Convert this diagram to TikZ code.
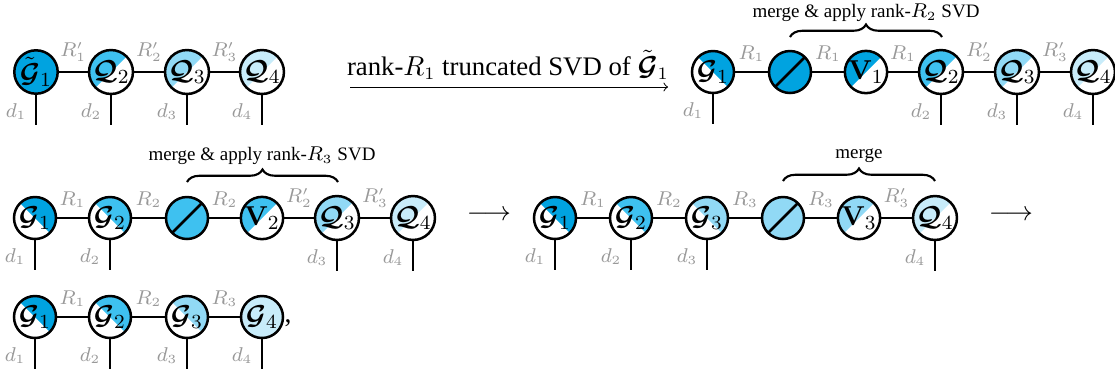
\documentclass[tikz,border=0pt]{standalone}
\usepackage{amsmath,bm}
\usepackage[no-math]{fontspec}
\setmainfont{Liberation Serif}
\usetikzlibrary{decorations.pathreplacing,calc}
\definecolor{cA}{RGB}{0,163,224}
\definecolor{cB}{RGB}{62,193,240}
\definecolor{cC}{RGB}{145,217,245}
\definecolor{cD}{RGB}{200,236,250}
\newcommand{\Gc}{\bm{\mathcal{G}}}
\newcommand{\Qc}{\bm{\mathcal{Q}}}
\tikzset{
  tn/.style={circle, draw, line width=1pt, minimum size=16.8pt, inner sep=0pt,
    font=\fontsize{11}{13}\selectfont},
  full/.style={tn, fill=#1},
  qhalf/.style={tn, path picture={\fill[#1] (path picture bounding box.south west) --
      (path picture bounding box.north west) -- (path picture bounding box.north east) -- cycle;}},
  ghalf/.style={tn, path picture={\fill[#1] (path picture bounding box.north west) --
      (path picture bounding box.north east) -- (path picture bounding box.south east) -- cycle;}},
  snode/.style={tn, fill=#1, path picture={\draw[line width=1pt] (path picture bounding box.south west) --
      (path picture bounding box.north east);}},
  bond/.style={line width=1pt},
  lbl/.style={text=black!40, inner sep=0pt, font=\fontsize{7.8}{9}\selectfont},
  rl/.style={lbl, above=3.6pt, midway},
  dl/.style={lbl, left=3.3pt, pos=0.55},
  bracestyle/.style={decorate, decoration={brace, amplitude=5pt}, line width=0.85pt},
  bracelbl/.style={font=\fontsize{7.6}{9}\selectfont, inner sep=0pt},
}
\begin{document}
\begin{tikzpicture}[x=0.4pt, y=-0.4pt]
\useasboundingbox (0,0) rectangle (1115,375);
% ---------- row 1 ----------
\node[full=cA] (a1) at (36,72) {$\tilde{\Gc}_1$};
\node[qhalf=cB] (a2) at (111,72) {$\Qc_2$};
\node[qhalf=cC] (a3) at (187,72) {$\Qc_3$};
\node[qhalf=cD] (a4) at (262,72) {$\Qc_4$};
\draw[bond] (a1) -- node[rl]{$R_1'$} (a2);
\draw[bond] (a2) -- node[rl]{$R_2'$} (a3);
\draw[bond] (a3) -- node[rl]{$R_3'$} (a4);
\draw[bond] (a1.south) -- node[dl]{$d_1$} ++(0,30);
\draw[bond] (a2.south) -- node[dl]{$d_2$} ++(0,30);
\draw[bond] (a3.south) -- node[dl]{$d_3$} ++(0,30);
\draw[bond] (a4.south) -- node[dl]{$d_4$} ++(0,30);
% arrow
\node[anchor=base, inner sep=0pt, font=\fontsize{10.7}{12}\selectfont] (t1) at (508,75)
  {rank-$R_1$ truncated SVD of $\tilde{\Gc}_1$};
\coordinate (arL) at (350,87);
\coordinate (arR) at (668,87);
\draw[line width=0.4pt, ->] (arL) -- (arR);
% ---------- row 2 ----------
\node[ghalf=cA] (b1) at (713,72) {$\Gc_1$};
\node[snode=cA] (b2) at (790,72) {};
\node[qhalf=cA] (b3) at (866,72) {$\mathbf{V}_1$};
\node[qhalf=cB] (b4) at (941,72) {$\Qc_2$};
\node[qhalf=cC] (b5) at (1017,72) {$\Qc_3$};
\node[qhalf=cD] (b6) at (1093,72) {$\Qc_4$};
\draw[bond] (b1) -- node[rl]{$R_1$} (b2);
\draw[bond] (b2) -- node[rl]{$R_1$} (b3);
\draw[bond] (b3) -- node[rl]{$R_1$} (b4);
\draw[bond] (b4) -- node[rl]{$R_2'$} (b5);
\draw[bond] (b5) -- node[rl]{$R_3'$} (b6);
\draw[bond] (b1.south) -- node[dl]{$d_1$} ++(0,30);
\draw[bond] (b4.south) -- node[dl]{$d_2$} ++(0,30);
\draw[bond] (b5.south) -- node[dl]{$d_3$} ++(0,30);
\draw[bond] (b6.south) -- node[dl]{$d_4$} ++(0,30);
\coordinate (br1L) at (790,37);
\coordinate (br1R) at (942,37);
\draw[bracestyle] (br1L) -- (br1R);
\node[bracelbl] (bl1) at (866,13) {merge \& apply rank-$R_2$ SVD};
% ---------- row 3 left ----------
\node[ghalf=cA] (c1) at (35,218) {$\Gc_1$};
\node[ghalf=cB] (c2) at (110,218) {$\Gc_2$};
\node[snode=cB] (c3) at (187,218) {};
\node[qhalf=cB] (c4) at (262,218) {$\mathbf{V}_2$};
\node[qhalf=cC] (c5) at (337,218) {$\Qc_3$};
\node[qhalf=cD] (c6) at (413,218) {$\Qc_4$};
\draw[bond] (c1) -- node[rl]{$R_1$} (c2);
\draw[bond] (c2) -- node[rl]{$R_2$} (c3);
\draw[bond] (c3) -- node[rl]{$R_2$} (c4);
\draw[bond] (c4) -- node[rl]{$R_2'$} (c5);
\draw[bond] (c5) -- node[rl]{$R_3'$} (c6);
\draw[bond] (c1.south) -- node[dl]{$d_1$} ++(0,30);
\draw[bond] (c2.south) -- node[dl]{$d_2$} ++(0,30);
\draw[bond] (c5.south) -- node[dl]{$d_3$} ++(0,30);
\draw[bond] (c6.south) -- node[dl]{$d_4$} ++(0,30);
\coordinate (br2L) at (187,182);
\coordinate (br2R) at (338,182);
\draw[bracestyle] (br2L) -- (br2R);
\node[bracelbl] (bl2) at (262,156) {merge \& apply rank-$R_3$ SVD};
\node[inner sep=0pt, font=\fontsize{10.7}{12}\selectfont] (arr2) at (489,215) {$\longrightarrow$};
% ---------- row 3 right ----------
\node[ghalf=cA] (e1) at (555,218) {$\Gc_1$};
\node[ghalf=cB] (e2) at (631,218) {$\Gc_2$};
\node[ghalf=cC] (e3) at (707,218) {$\Gc_3$};
\node[snode=cC] (e4) at (783,218) {};
\node[qhalf=cC] (e5) at (859,218) {$\mathbf{V}_3$};
\node[qhalf=cD] (e6) at (935,218) {$\Qc_4$};
\draw[bond] (e1) -- node[rl]{$R_1$} (e2);
\draw[bond] (e2) -- node[rl]{$R_2$} (e3);
\draw[bond] (e3) -- node[rl]{$R_3$} (e4);
\draw[bond] (e4) -- node[rl]{$R_3$} (e5);
\draw[bond] (e5) -- node[rl]{$R_3'$} (e6);
\draw[bond] (e1.south) -- node[dl]{$d_1$} ++(0,30);
\draw[bond] (e2.south) -- node[dl]{$d_2$} ++(0,30);
\draw[bond] (e3.south) -- node[dl]{$d_3$} ++(0,30);
\draw[bond] (e6.south) -- node[dl]{$d_4$} ++(0,30);
\coordinate (br3L) at (783,181);
\coordinate (br3R) at (935,181);
\draw[bracestyle] (br3L) -- (br3R);
\node[bracelbl] (bl3) at (859,156) {merge};
\node[inner sep=0pt, font=\fontsize{10.7}{12}\selectfont] (arr3) at (1011,215) {$\longrightarrow$};
% ---------- row 4 ----------
\node[ghalf=cA] (f1) at (35,317) {$\Gc_1$};
\node[ghalf=cB] (f2) at (110,317) {$\Gc_2$};
\node[ghalf=cC] (f3) at (187,317) {$\Gc_3$};
\node[full=cD] (f4) at (262,317) {$\Gc_4$};
\node[anchor=base west, inner sep=0pt, font=\fontsize{11}{13}\selectfont] (comma) at (284,322) {,};
\draw[bond] (f1) -- node[rl]{$R_1$} (f2);
\draw[bond] (f2) -- node[rl]{$R_2$} (f3);
\draw[bond] (f3) -- node[rl]{$R_3$} (f4);
\draw[bond] (f1.south) -- node[dl]{$d_1$} ++(0,30);
\draw[bond] (f2.south) -- node[dl]{$d_2$} ++(0,30);
\draw[bond] (f3.south) -- node[dl]{$d_3$} ++(0,30);
\draw[bond] (f4.south) -- node[dl]{$d_4$} ++(0,30);
\end{tikzpicture}
\end{document}
